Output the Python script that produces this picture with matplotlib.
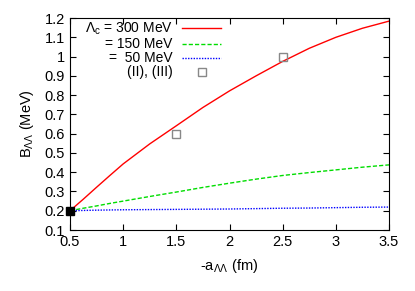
import matplotlib
matplotlib.use("Agg")
import matplotlib.pyplot as plt
import numpy as np

plt.rcParams['font.family'] = ['Liberation Sans', 'DejaVu Sans']
plt.rcParams['mathtext.fontset'] = 'custom'
plt.rcParams['mathtext.rm'] = 'Liberation Sans'
plt.rcParams['mathtext.it'] = 'Liberation Sans:italic'
plt.rcParams['font.size'] = 10.5

# -a_LL (fm)
a_vals = [0.5, 0.625, 0.75, 0.875, 1.0, 1.25, 1.5, 1.75, 2.0, 2.25, 2.5, 2.75, 3.0, 3.25, 3.5]
# B_LL (MeV) for each cutoff
b_300 = [0.20, 0.26, 0.322, 0.383, 0.443, 0.547, 0.641, 0.736, 0.822, 0.90, 0.975, 1.043,
         1.100, 1.147, 1.184]
b_150 = [0.20, 0.213, 0.225, 0.238, 0.25, 0.274, 0.297, 0.321, 0.343, 0.364, 0.383, 0.398,
         0.412, 0.426, 0.438]
b_50 = [0.20, 0.2015, 0.203, 0.204, 0.205, 0.206, 0.207, 0.208, 0.209, 0.211, 0.213, 0.214,
        0.216, 0.218, 0.219]
# points (II), (III)
pts_a = [1.5, 2.5]
pts_b = [0.6, 1.0]
# reference point
ref_a = [0.5]
ref_b = [0.2]

fig = plt.figure(figsize=(4.15, 2.91), dpi=100)
ax = fig.add_axes([0.1687, 0.2096, 0.7687, 0.7284])

ax.plot(a_vals, b_300, color='#ff0000', lw=1.0, label=r'$\Lambda_{\rm c}$ = 300 MeV')
ax.plot(a_vals, b_150, color='#00dd00', lw=1.0, ls=(0, (3, 1.5)), label='= 150 MeV')
ax.plot(a_vals, b_50, color='#0000ff', lw=1.0, ls=(0, (1, 1)), label='=  50 MeV')
ax.plot(pts_a, pts_b, ls='none', marker='s', ms=5.5, mfc='none', mec='#888888', mew=1.0,
        label='(II), (III)')
ax.plot(ref_a, ref_b, ls='none', marker='s', ms=5.5, color='black', clip_on=False, zorder=5)

ax.set_xlim(0.5, 3.5)
ax.set_ylim(0.1, 1.2)
ax.set_xticks([0.5, 1, 1.5, 2, 2.5, 3, 3.5])
ax.set_xticklabels(['0.5', '1', '1.5', '2', '2.5', '3', '3.5'])
ax.set_yticks(np.arange(0.1, 1.21, 0.1))
ax.set_yticklabels(['0.1', '0.2', '0.3', '0.4', '0.5', '0.6', '0.7', '0.8', '0.9', '1', '1.1', '1.2'])
ax.tick_params(direction='in', top=True, right=True, length=4, width=0.8, labelsize=10.5)
for s in ax.spines.values():
    s.set_linewidth(0.8)

ax.set_xlabel(r'-a$_{\Lambda\Lambda}$ (fm)', fontsize=10.5, labelpad=6)
ax.set_ylabel(r'B$_{\Lambda\Lambda}$ (MeV)', fontsize=10.5, labelpad=6)

ax.legend(loc='upper left', bbox_to_anchor=(0.02, 1.025), frameon=False, markerfirst=False,
          handlelength=2.8, labelspacing=0.0, handletextpad=0.7, borderaxespad=0.2,
          fontsize=10)

fig.savefig('out.png', dpi=100)
